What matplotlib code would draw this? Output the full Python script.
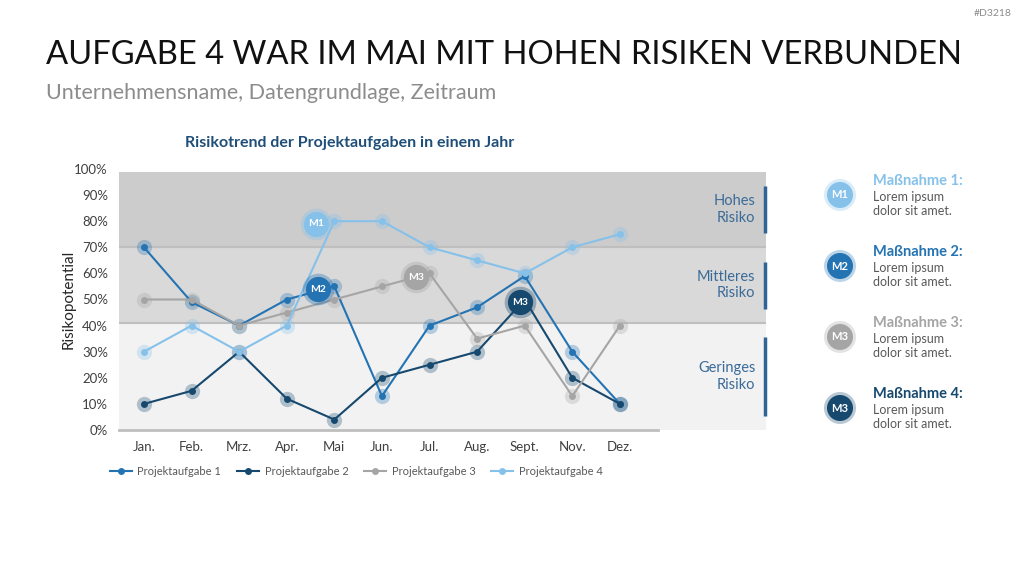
import matplotlib
matplotlib.use("Agg")
import matplotlib.pyplot as plt

plt.rcParams['font.family'] = ['Lato', 'DejaVu Sans']

months = ["Jan.", "Feb.", "Mrz.", "Apr.", "Mai", "Jun.", "Jul.", "Aug.", "Sept.", "Nov.", "Dez."]
p1 = [70, 49, 40, 50, 55, 13, 40, 47, 59, 30, 10]
p2 = [10, 15, 30, 12, 4, 20, 25, 30, 50, 20, 10]
p3 = [50, 50, 40, 45, 50, 55, 60, 35, 40, 13, 40]
p4 = [30, 40, 30, 40, 80, 80, 70, 65, 60, 70, 75]
series_names = ["Projektaufgabe 1", "Projektaufgabe 2", "Projektaufgabe 3", "Projektaufgabe 4"]
yticks = [0, 10, 20, 30, 40, 50, 60, 70, 80, 90, 100]

# risk bands (lower, upper, label)
band_low = [0, 41, 70]
band_high = [41, 70, 99]
band_labels = ["Geringes\nRisiko", "Mittleres\nRisiko", "Hohes\nRisiko"]

# measure bubbles on chart: x (category position), y (value), label
bubble_x = [3.62, 3.65, 5.71, 7.9]
bubble_y = [79, 54, 58.5, 49]
bubble_lbl = ["M1", "M2", "M3", "M3"]

measure_titles = ["Maßnahme 1:", "Maßnahme 2:", "Maßnahme 3:", "Maßnahme 4:"]
measure_text = "Lorem ipsum\ndolor sit amet."

C1 = "#2473B3"
C2 = "#17496F"
C3 = "#A5A5A5"
C4 = "#86C1EA"
colors = [C1, C2, C3, C4]
bubble_colors = [C4, C1, C3, C2]
band_colors = ["#F2F2F2", "#D9D9D9", "#CCCCCC"]
TXT = "#3A6B98"

fig = plt.figure(figsize=(10.24, 5.76), dpi=100)
fig.patch.set_facecolor("white")

fig.text(46/1024, 1 - 55/576, "AUFGABE 4 WAR IM MAI MIT HOHEN RISIKEN VERBUNDEN",
         fontsize=23.6, color="#111111", va="center", ha="left")
fig.text(46/1024, 1 - 93/576, "Unternehmensname, Datengrundlage, Zeitraum",
         fontsize=15.5, color="#8C8C8C", va="center", ha="left")
fig.text(1012/1024, 1 - 13/576, "#D3218", fontsize=7.5, color="#8C8C8C", va="center", ha="right")
fig.text(350/1024, 1 - 143/576, "Risikotrend der Projektaufgaben in einem Jahr",
         fontsize=11.5, color="#1F4E79", fontweight="bold", va="center", ha="center")

ax = fig.add_axes([119/1024, (576-430)/576, (766-119)/1024, (430-169)/576])
ax.set_xlim(-0.525, 13.07)
ax.set_ylim(0, 100)
for s in ax.spines.values():
    s.set_visible(False)

for lo, hi, c in zip(band_low, band_high, band_colors):
    ax.axhspan(lo, hi, xmin=0, xmax=1, color=c, zorder=0, lw=0)
for b in band_low[1:]:
    ax.axhline(b, color="#BFBFBF", lw=1.5, zorder=0.5)
ax.plot([-0.525, 10.8], [0, 0], color="#BFBFBF", lw=2, zorder=1, clip_on=False)

x = list(range(len(months)))
for vals, c, name in zip([p1, p2, p3, p4], colors, series_names):
    ax.plot(x, vals, ls="none", marker="o", ms=11, color=c, alpha=0.3, mec="none", zorder=2)
    ax.plot(x, vals, color=c, lw=1.5, marker="o", ms=5, mec="none", zorder=3, label=name)

for bx, by, bl, bc in zip(bubble_x, bubble_y, bubble_lbl, bubble_colors):
    ax.scatter([bx], [by], s=520, color=bc, alpha=0.35, lw=0, zorder=4)
    ax.scatter([bx], [by], s=330, color=bc, lw=0, zorder=5)
    ax.text(bx, by, bl, color="white", fontsize=7.5, fontweight="bold", ha="center", va="center", zorder=6)

# band labels and side bars
for lo, hi, lbl in zip(band_low, band_high, band_labels):
    mid = (lo + hi) / 2
    ax.text(12.85, mid, lbl, ha="right", va="center", fontsize=10.5, color=TXT, linespacing=1.2)
    ax.plot([13.05, 13.05], [lo + 5.5, hi - 5.5], color="#2F6496", lw=2.5,
            solid_capstyle="butt", zorder=3, clip_on=False)

ax.set_xticks(x)
ax.set_xticklabels(months, fontsize=9.5, color="#404040")
ax.set_yticks(yticks)
ax.set_yticklabels([f"{v}%" for v in yticks], fontsize=9.5, color="#404040")
ax.tick_params(length=0, pad=8)
ax.set_ylabel("Risikopotential", fontsize=11, color="#262626")
ax.yaxis.set_label_coords((76 - 119) / 647, 0.5)

ax.legend(loc="upper left", bbox_to_anchor=(-0.03, -0.1), ncol=4, frameon=False,
          fontsize=8, labelcolor="#595959", handlelength=2.0, columnspacing=1.4,
          handletextpad=0.5)

# right side measures (pixel-coordinate overlay)
ov = fig.add_axes([0, 0, 1, 1], zorder=5)
ov.set_xlim(0, 1024)
ov.set_ylim(576, 0)
ov.axis("off")
ov.patch.set_alpha(0)

cy = [195, 266, 337, 408]
for yy, lbl, t, bc in zip(cy, ["M1", "M2", "M3", "M3"], measure_titles, bubble_colors):
    ov.add_patch(plt.Circle((840, yy), 16, color=bc, alpha=0.3, lw=0))
    ov.add_patch(plt.Circle((840, yy), 13, color=bc, lw=0))
    ov.text(840, yy, lbl, color="white", fontsize=8, fontweight="bold", ha="center", va="center")
    ov.text(873, yy - 14, t, color=bc, fontsize=10.5, fontweight="bold", ha="left", va="center")
    ov.text(873, yy + 9, measure_text, color="#595959", fontsize=9, ha="left", va="center",
            linespacing=1.2)

fig.savefig("out.png", dpi=100)
